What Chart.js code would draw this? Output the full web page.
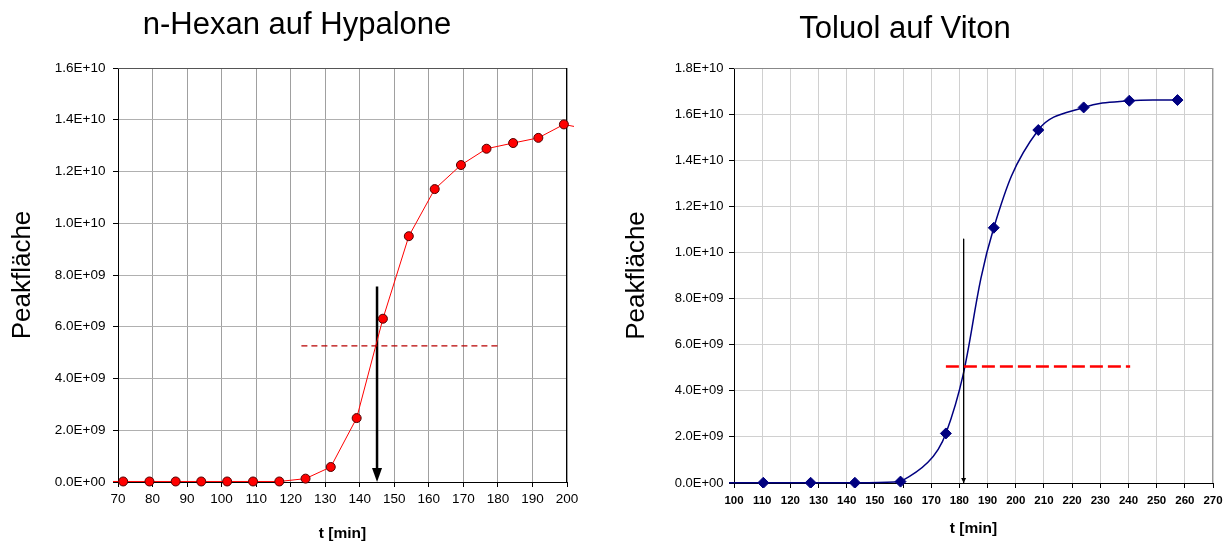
<!DOCTYPE html>
<html><head><meta charset="utf-8">
<script src="https://cdn.jsdelivr.net/npm/chart.js@4.4.1/dist/chart.umd.min.js"></script>
<style>
html,body{margin:0;padding:0;background:#fff;width:1232px;height:544px;overflow:hidden}
#c1{position:absolute;left:0;top:0}
#c2{position:absolute;left:578px;top:0}
</style></head><body>
<canvas id="c1" width="594" height="544"></canvas>
<canvas id="c2" width="654" height="544"></canvas>
<script>
// ---- n-Hexan auf Hypalone ----
const hexanTime = [63.9, 71.5, 79.1, 86.7, 94.1, 101.6, 109.1, 116.7, 124.3, 131.6, 139.1, 146.7, 154.2, 161.7, 169.3, 176.7, 184.4, 191.7, 199.1, 206.6];
const hexanArea = [0.02e9, 0.02e9, 0.02e9, 0.02e9, 0.02e9, 0.02e9, 0.02e9, 0.02e9, 0.13e9, 0.58e9, 2.47e9, 6.31e9, 9.50e9, 11.32e9, 12.25e9, 12.88e9, 13.10e9, 13.30e9, 13.82e9, 13.62e9];
const hexanHalfLevel = 5.26e9;
const hexanHalfRange = [123.1, 180.1];
const hexanArrowX = 145.0;
const hexanArrowTop = 7.56e9;
const hexanYTicks = ['0.0E+00', '2.0E+09', '4.0E+09', '6.0E+09', '8.0E+09', '1.0E+10', '1.2E+10', '1.4E+10', '1.6E+10'];
const hexanXTicks = ['70', '80', '90', '100', '110', '120', '130', '140', '150', '160', '170', '180', '190', '200'];

// ---- Toluol auf Viton ----
const toluolTime = [94.3, 110.4, 127.2, 142.9, 159.1, 175.2, 192.2, 208.0, 224.1, 240.3, 257.4];
const toluolArea = [0.01e9, 0.01e9, 0.01e9, 0.01e9, 0.06e9, 2.15e9, 11.07e9, 15.31e9, 16.29e9, 16.58e9, 16.61e9];
const toluolHalfLevel = 5.05e9;
const toluolHalfRange = [175.2, 240.6];
const toluolArrowX = 181.5;
const toluolArrowTop = 10.59e9;
const toluolYTicks = ['0.0E+00', '2.0E+09', '4.0E+09', '6.0E+09', '8.0E+09', '1.0E+10', '1.2E+10', '1.4E+10', '1.6E+10', '1.8E+10'];
const toluolXTicks = ['100', '110', '120', '130', '140', '150', '160', '170', '180', '190', '200', '210', '220', '230', '240', '250', '260', '270'];

const FONT = "'Liberation Sans', Arial, sans-serif";
const pts = (xs, ys) => xs.map((x, i) => ({x: x, y: ys[i]}));

const framePlugin = {
  id: 'frame',
  beforeDatasetsDraw(chart, args, o) {
    const a = chart.chartArea, ctx = chart.ctx;
    ctx.save();
    ctx.lineWidth = 1;
    ctx.strokeStyle = o.topColor;
    ctx.beginPath(); ctx.moveTo(a.left, a.top + 0.5); ctx.lineTo(a.right, a.top + 0.5); ctx.stroke();
    ctx.strokeStyle = o.rightColor;
    ctx.beginPath(); ctx.moveTo(a.right - 0.5, a.top); ctx.lineTo(a.right - 0.5, a.bottom); ctx.stroke();
    ctx.restore();
  },
  afterDatasetsDraw(chart, args, o) {
    const ctx = chart.ctx;
    const px = chart.scales.x.getPixelForValue(o.arrowX);
    const py = chart.scales.y.getPixelForValue(0);
    ctx.save();
    ctx.fillStyle = '#000';
    ctx.beginPath();
    ctx.moveTo(px, py);
    ctx.lineTo(px - o.headW / 2, py - o.headH);
    ctx.lineTo(px + o.headW / 2, py - o.headH);
    ctx.closePath();
    ctx.fill();
    ctx.restore();
  }
};

function makeChart(id, cfg) {
  return new Chart(document.getElementById(id), {
    type: 'scatter',
    data: { datasets: cfg.datasets },
    options: {
      responsive: false,
      animation: false,
      devicePixelRatio: 1,
      layout: { padding: 0 },
      plugins: {
        legend: { display: false },
        tooltip: { enabled: false },
        title: {
          display: true, text: cfg.title, color: '#000',
          font: { family: FONT, size: 31, weight: 'normal', lineHeight: 1.2 },
          padding: { top: cfg.titleTop, bottom: 68 - cfg.titleTop - 37.2 }
        },
        frame: cfg.frame
      },
      scales: {
        x: {
          type: 'linear', min: cfg.xMin, max: cfg.xMax,
          afterFit: s => { s.height = cfg.xHeight; },
          ticks: {
            stepSize: 10, autoSkip: false, maxRotation: 0, padding: cfg.xTickPad, color: '#000',
            font: cfg.xTickFont,
            callback: (v, i) => cfg.xTicks[i]
          },
          grid: { color: cfg.gridX, tickColor: '#000', tickLength: 5 },
          border: { color: '#000', width: 1 },
          title: {
            display: true, text: 't [min]', color: '#000',
            font: { family: FONT, size: 15.5, weight: 'bold' },
            padding: { top: 0, bottom: cfg.xTitleBottom }
          }
        },
        y: {
          type: 'linear', min: 0, max: cfg.yMax,
          afterFit: s => { s.width = cfg.yWidth; },
          ticks: {
            stepSize: 2e9, padding: cfg.yTickPad, color: '#000',
            font: cfg.yTickFont,
            callback: (v, i) => cfg.yTicks[i]
          },
          grid: { color: cfg.gridY, tickColor: '#000', tickLength: 5 },
          border: { color: '#000', width: 1 },
          title: {
            display: true, text: 'Peakfläche', color: '#000',
            font: { family: FONT, size: 26, weight: 'normal' },
            padding: { top: cfg.yTitleTop, bottom: 0 }
          }
        },
        yRightSpace: {
          type: 'linear', position: 'right', min: 0, max: 1,
          afterFit: s => { s.width = cfg.rightSpace; },
          ticks: { display: false },
          grid: { display: false, drawTicks: false },
          border: { display: false }
        }
      }
    },
    plugins: [framePlugin]
  });
}

makeChart('c1', {
  title: 'n-Hexan auf Hypalone', titleTop: 7, rightSpace: 27,
  xMin: 70, xMax: 200, xHeight: 62, xTicks: hexanXTicks, xTickPad: 4.5, xTitleBottom: 0.5,
  xTickFont: { family: FONT, size: 13.5 },
  yMax: 1.6e10, yWidth: 118, yTicks: hexanYTicks, yTickPad: 7.5, yTitleTop: 7,
  yTickFont: { family: FONT, size: 13.5 },
  gridX: '#a0a0a0', gridY: '#b0b0b0',
  frame: { topColor: '#555', rightColor: '#000', arrowX: hexanArrowX, headW: 10, headH: 14 },
  datasets: [
    { data: pts(hexanHalfRange, [hexanHalfLevel, hexanHalfLevel]), showLine: true, borderColor: '#b80000', borderWidth: 1.2, borderDash: [6, 4], pointRadius: 0 },
    { data: pts(hexanTime, hexanArea), showLine: true, borderColor: '#ff0000', borderWidth: 1, tension: 0,
      pointRadius: 4.5, pointBackgroundColor: '#ff0000', pointBorderColor: '#500000', pointBorderWidth: 1,
      clip: { left: 5, right: 7, top: 0, bottom: 5 } },
    { data: pts([hexanArrowX, hexanArrowX], [hexanArrowTop, 0.5e9]), showLine: true, borderColor: '#000', borderWidth: 2.5, pointRadius: 0 }
  ]
});

makeChart('c2', {
  title: 'Toluol auf Viton', titleTop: 10.5, rightSpace: 19,
  xMin: 100, xMax: 270, xHeight: 61, xTicks: toluolXTicks, xTickPad: 6, xTitleBottom: 6,
  xTickFont: { family: FONT, size: 11.5, weight: 'bold' },
  yMax: 1.8e10, yWidth: 156, yTicks: toluolYTicks, yTickPad: 5.5, yTitleTop: 43.4,
  yTickFont: { family: FONT, size: 13 },
  gridX: '#d0d0d0', gridY: '#d0d0d0',
  frame: { topColor: '#888', rightColor: '#999', arrowX: toluolArrowX, headW: 5, headH: 5 },
  datasets: [
    { data: pts(toluolHalfRange, [toluolHalfLevel, toluolHalfLevel]), showLine: true, borderColor: '#ff0000', borderWidth: 2.5, borderDash: [13, 5], pointRadius: 0 },
    { data: pts([toluolArrowX, toluolArrowX], [toluolArrowTop, 0]), showLine: true, borderColor: '#000', borderWidth: 1, pointRadius: 0 },
    { data: pts(toluolTime, toluolArea), showLine: true, borderColor: '#000080', borderWidth: 1.5, tension: 0.4,
      pointStyle: 'rectRot', pointRadius: 5.5, pointBackgroundColor: '#000080', pointBorderColor: '#000080', pointBorderWidth: 1,
      clip: { left: 5, right: 5, top: 0, bottom: 5 } }
  ]
});
</script>
</body></html>
